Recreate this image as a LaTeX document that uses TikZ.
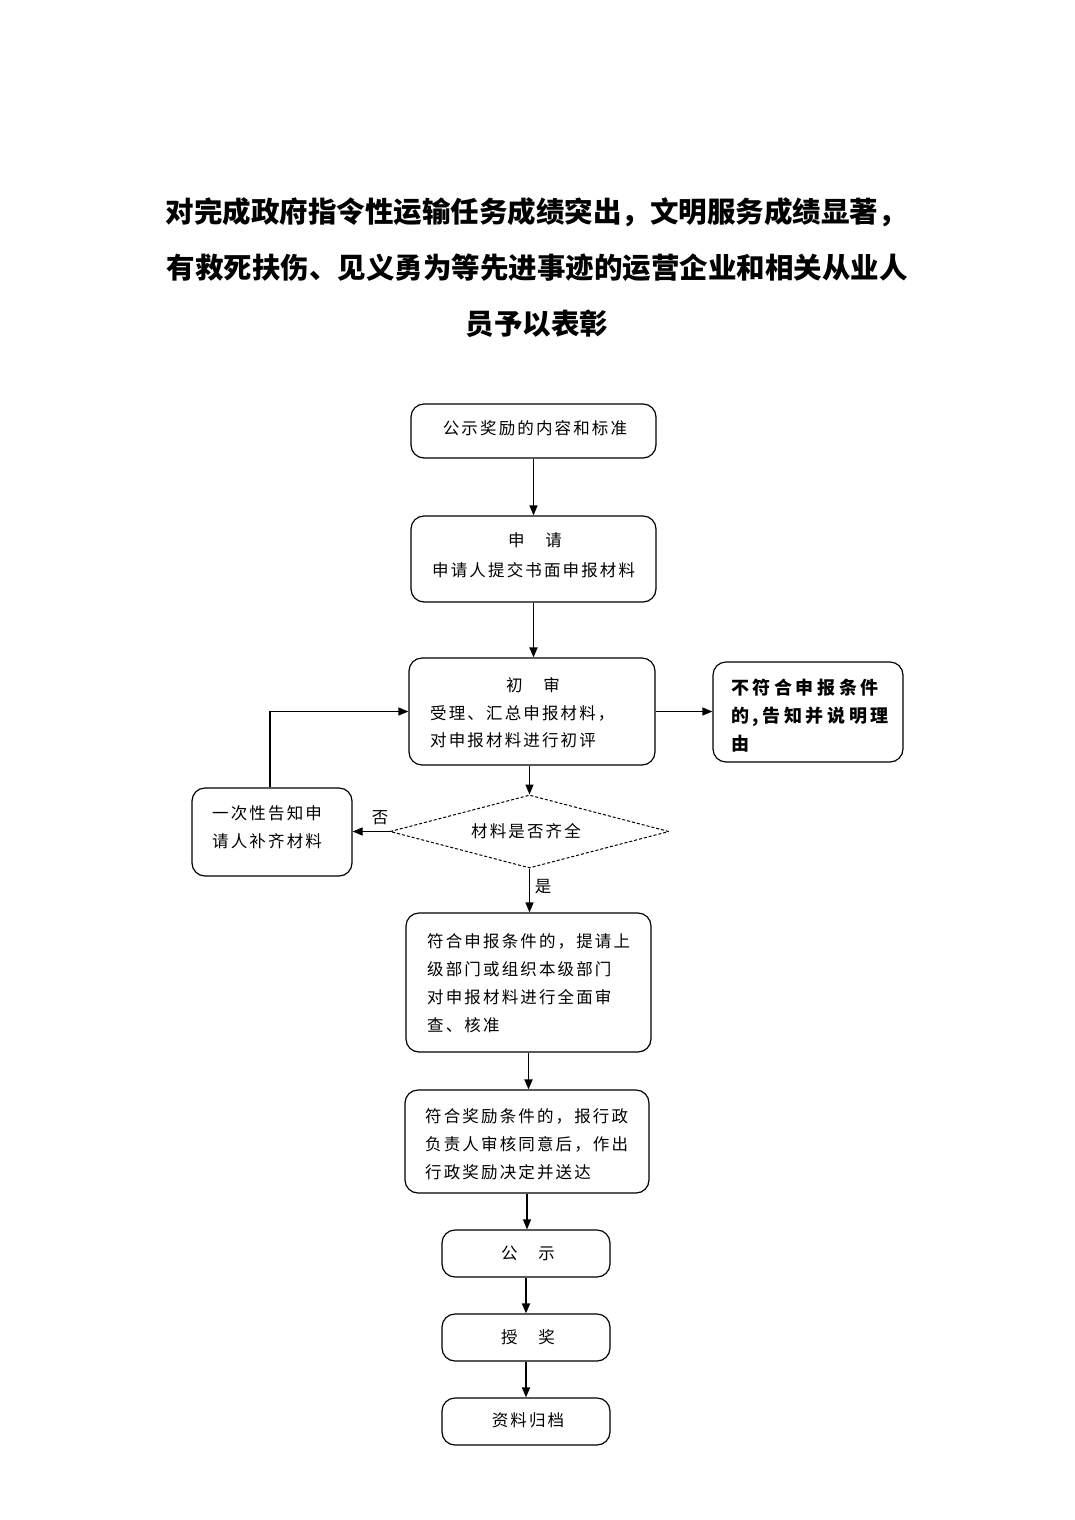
\documentclass[tikz,border=0pt]{standalone}
\usepackage{fontspec}
\setmainfont{Noto Sans CJK SC}
\newfontfamily\bodyf[LetterSpace=13]{Noto Sans CJK SC}
\newfontfamily\boldf[LetterSpace=20]{Noto Sans CJK SC}
\usetikzlibrary{shapes.geometric,arrows.meta}
\begin{document}
\begin{tikzpicture}[x=1pt,y=-1pt,
  box/.style={draw, line width=1.2pt, rounded corners=13pt, inner sep=0pt},
  txt/.style={inner sep=0pt, anchor=west, font=\bodyf\fontsize{16.5}{20}\selectfont},
  ctxt/.style={inner sep=0pt, font=\bodyf\fontsize{16.5}{20}\selectfont},
  btxt/.style={inner sep=0pt, anchor=west, font=\boldf\bfseries\fontsize{18}{22}\selectfont},
  ttl/.style={inner sep=0pt, font=\bfseries\fontsize{28.5}{32}\selectfont},
  arr/.style={line width=1.2pt, -{Triangle[length=10pt,width=8pt]}}]
\useasboundingbox[fill=white] (0,0) rectangle (1075,1520);
% title
\node[ttl] (t1) at (536,212) {对完成政府指令性运输任务成绩突出，文明服务成绩显著，};
\node[ttl] (t2) at (537,268) {有救死扶伤、见义勇为等先进事迹的运营企业和相关从业人};
\node[ttl] (t3) at (537,324) {员予以表彰};
% boxes
\node[box, minimum width=245pt, minimum height=54pt] (b1) at (533.5,431) {};
\node[ctxt] (b1t) at (535,428) {公示奖励的内容和标准};
\node[box, minimum width=245pt, minimum height=86pt] (b2) at (533.5,559) {};
\node[ctxt] (b2a) at (535,540) {申　请};
\node[txt] (b2b) at (432,570) {申请人提交书面申报材料};
\node[box, minimum width=246pt, minimum height=107pt] (b3) at (532,711.5) {};
\node[ctxt] (b3a) at (533,685) {初　审};
\node[txt] (b3b) at (430,713) {受理、汇总申报材料，};
\node[txt] (b3c) at (430,740) {对申报材料进行初评};
\node[box, minimum width=190pt, minimum height=100pt] (br) at (808,712) {};
\node[btxt] (bra) at (731,688) {不符合申报条件};
\node[btxt] (brb) at (731,717) {的,告知并说明理};
\node[btxt] (brc) at (731,744) {由};
\node[box, minimum width=160pt, minimum height=88pt] (bl) at (272,832) {};
\node[txt] (bla) at (212,813) {一次性告知申};
\node[txt] (blb) at (212,841) {请人补齐材料};
\node[draw, diamond, dash pattern=on 3pt off 2pt, line width=1pt, inner sep=0pt,
      aspect=3.82, minimum width=279pt, minimum height=73pt] (dia) at (529.5,831.5) {};
\node[ctxt] (diat) at (526,831) {材料是否齐全};
\node[box, minimum width=245pt, minimum height=139pt] (b4) at (528.5,982.5) {};
\node[txt] (b4a) at (427,941) {符合申报条件的，提请上};
\node[txt] (b4b) at (427,969) {级部门或组织本级部门};
\node[txt] (b4c) at (427,997) {对申报材料进行全面审};
\node[txt] (b4d) at (427,1025) {查、核准};
\node[box, minimum width=244pt, minimum height=103pt] (b5) at (527,1141.5) {};
\node[txt] (b5a) at (425,1116) {符合奖励条件的，报行政};
\node[txt] (b5b) at (425,1144) {负责人审核同意后，作出};
\node[txt] (b5c) at (425,1172) {行政奖励决定并送达};
\node[box, minimum width=168pt, minimum height=47pt] (b6) at (526,1253.5) {};
\node[ctxt] (b6t) at (528,1253) {公　示};
\node[box, minimum width=168pt, minimum height=47pt] (b7) at (526,1337.5) {};
\node[ctxt] (b7t) at (528,1337) {授　奖};
\node[box, minimum width=168pt, minimum height=47pt] (b8) at (526,1421.5) {};
\node[ctxt] (b8t) at (528,1420) {资料归档};
% labels
\node[ctxt] (no) at (380,818) {否};
\node[ctxt] (yes) at (543,887) {是};
% arrows
\draw[arr] (b1.south) -- (b2.north);
\draw[arr, line width=1.8pt] (b2.south) -- (b2.south |- b3.north);
\draw[arr] (dia.north |- b3.south) -- (dia.north);
\draw[arr] (dia.south) -- (dia.south |- b4.north);
\draw[arr, line width=1.8pt] (b4.south) -- (b4.south |- b5.north);
\draw[arr] (b5.south) -- (b5.south |- b6.north);
\draw[arr, line width=1.8pt] (b6.south) -- (b7.north);
\draw[arr, line width=1.8pt] (b7.south) -- (b8.north);
\draw[arr] (b3.east) -- (b3.east -| br.west);
\draw[arr] (dia.west) -- (dia.west -| bl.east);
\draw[arr] ([xshift=-2pt]bl.north) |- (b3.west);
\end{tikzpicture}
\end{document}
